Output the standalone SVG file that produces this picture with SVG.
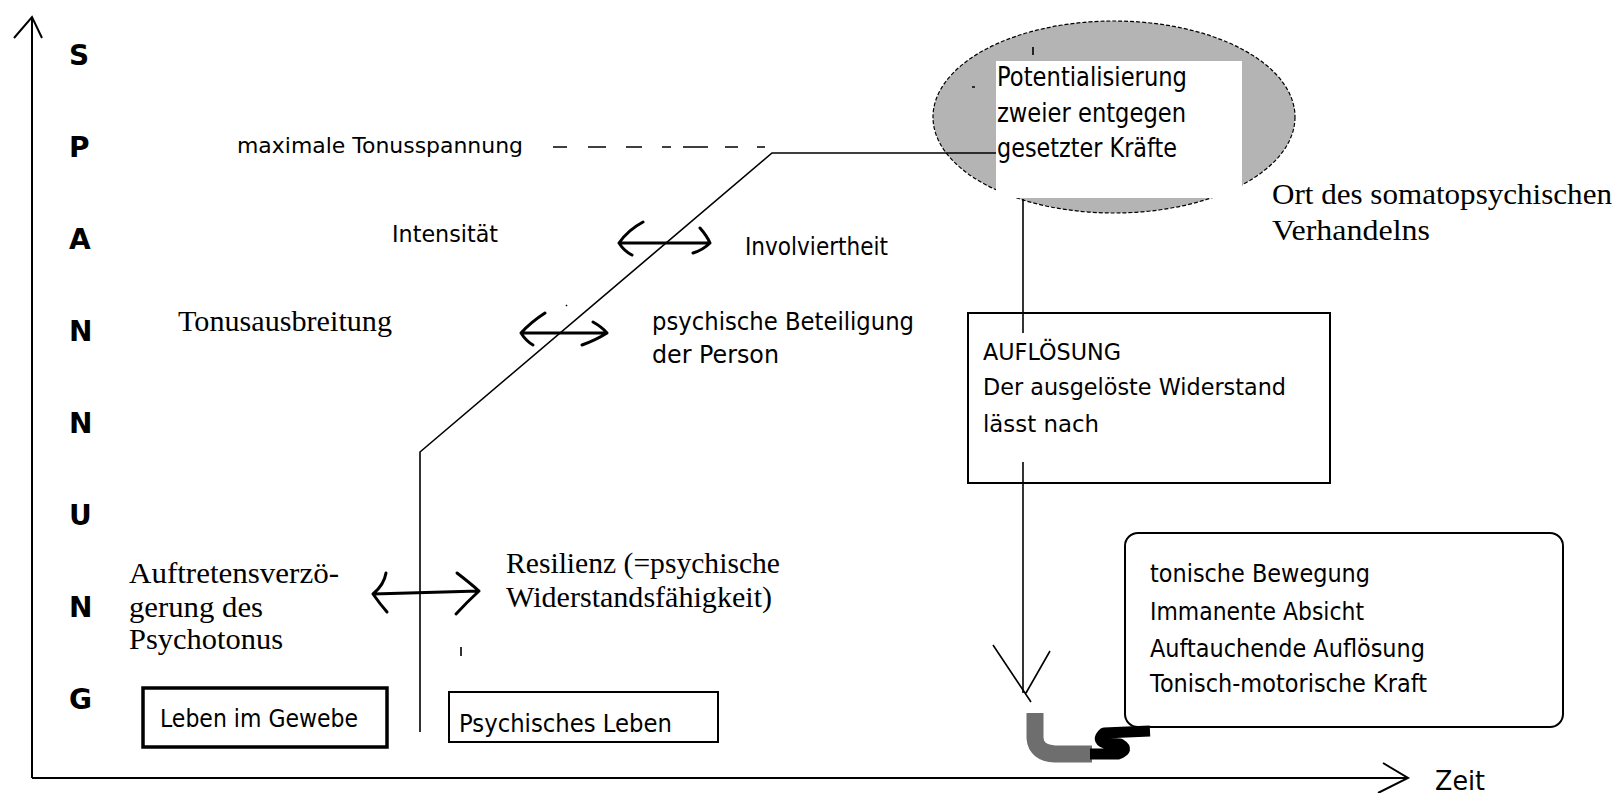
<svg xmlns="http://www.w3.org/2000/svg" width="1623" height="793" viewBox="0 0 1623 793">
<style>
  .sans { font-family: "DejaVu Sans", "Liberation Sans", sans-serif; fill: #000; }
  .serif { font-family: "Liberation Serif", "Times New Roman", serif; fill: #000; font-size: 29px; }
  .axis { stroke: #000; stroke-width: 2; fill: none; }
  .ln { stroke: #000; stroke-width: 1.6; fill: none; }
  .dbl { stroke: #000; stroke-width: 3; fill: none; stroke-linecap: round; stroke-linejoin: round; }
  .box { stroke: #000; stroke-width: 2; fill: none; }
  .letter { font-size: 28px; font-weight: bold; }
</style>
<rect width="1623" height="793" fill="#fff"/>

<g id="axes">
  <path class="axis" d="M32,778 L32,17"/>
  <path class="axis" d="M14,38 L32,17 L42,38"/>
  <path class="axis" d="M32,778 L1408,778"/>
  <path class="axis" d="M1383,763 L1408,778 L1378,793"/>
  <text class="sans" x="1435" y="790" font-size="26" textLength="50" lengthAdjust="spacingAndGlyphs">Zeit</text>
</g>

<g id="spannung-label" class="sans letter">
  <text x="69" y="65">S</text>
  <text x="69" y="157">P</text>
  <text x="69" y="249">A</text>
  <text x="69" y="341">N</text>
  <text x="69" y="433">N</text>
  <text x="69" y="525">U</text>
  <text x="69" y="617">N</text>
  <text x="69" y="709">G</text>
</g>

<g id="ellipse-node">
  <ellipse cx="1114" cy="117" rx="181" ry="96" fill="#b4b4b4" stroke="#000" stroke-width="1.2" stroke-dasharray="4 2"/>
  <rect x="996" y="61" width="246" height="137" fill="#fff"/>
  <path class="ln" d="M1033,47 L1033,55 M972,87 L975,87"/>
  <text class="sans" font-size="26" x="997" y="86" textLength="190" lengthAdjust="spacingAndGlyphs">Potentialisierung</text>
  <text class="sans" font-size="26" x="997" y="122" textLength="189" lengthAdjust="spacingAndGlyphs">zweier entgegen</text>
  <text class="sans" font-size="26" x="997" y="157" textLength="180" lengthAdjust="spacingAndGlyphs">gesetzter Kräfte</text>
</g>

<g id="ort-label">
  <text class="serif" x="1272" y="204" textLength="340" lengthAdjust="spacingAndGlyphs">Ort des somatopsychischen</text>
  <text class="serif" x="1272" y="240" textLength="158" lengthAdjust="spacingAndGlyphs">Verhandelns</text>
</g>

<g id="connectors">
  <path class="ln" d="M420,732 L420,452 L772,153 L996,153"/>
  <path class="ln" d="M553,147 L567,147 M588,147 L606,147 M626,147 L642,147 M662,147 L671,147 M683,147 L708,147 M725,147 L738,147 M757,147 L765,147"/>
  <path class="ln" d="M1023,199 L1023,333"/>
  <path class="ln" d="M1023,462 L1023,693"/>
  <path class="ln" d="M993,645 L1031,702 M1050,651 L1026,693"/>
  <path class="dbl" d="M619,243 L710,243 M643,222 Q628,230 619,243 Q624,251 632,255 M700,228 Q707,236 710,243 Q703,250 693,253"/>
  <path class="dbl" d="M521,333 L607,333 M545,313 Q531,322 521,333 Q526,341 533,345 M593,322 Q602,327 607,333 Q596,340 582,345"/>
  <path class="dbl" d="M373,594 L479,591 M386,573 Q384,585 373,594 Q380,604 387,612 M457,573 Q470,583 479,591 Q467,602 456,614"/>
  <path class="ln" d="M461,647 L461,656 M566,305 L567,306"/>
</g>

<g id="texts">
  <text class="sans" font-size="22" x="237" y="153" textLength="286" lengthAdjust="spacingAndGlyphs">maximale Tonusspannung</text>
  <text class="sans" font-size="23" x="392" y="242" textLength="106" lengthAdjust="spacingAndGlyphs">Intensität</text>
  <text class="sans" font-size="24" x="745" y="255" textLength="143" lengthAdjust="spacingAndGlyphs">Involviertheit</text>
  <text class="serif" x="178" y="331" textLength="214" lengthAdjust="spacingAndGlyphs">Tonusausbreitung</text>
  <text class="sans" font-size="24" x="652" y="330" textLength="262" lengthAdjust="spacingAndGlyphs">psychische Beteiligung</text>
  <text class="sans" font-size="24" x="652" y="363" textLength="127" lengthAdjust="spacingAndGlyphs">der Person</text>
  <text class="serif" x="129" y="583" textLength="210" lengthAdjust="spacingAndGlyphs">Auftretensverzö-</text>
  <text class="serif" x="129" y="617" textLength="134" lengthAdjust="spacingAndGlyphs">gerung des</text>
  <text class="serif" x="129" y="649" textLength="154" lengthAdjust="spacingAndGlyphs">Psychotonus</text>
  <text class="serif" x="506" y="573" textLength="274" lengthAdjust="spacingAndGlyphs">Resilienz (=psychische</text>
  <text class="serif" x="506" y="607" textLength="266" lengthAdjust="spacingAndGlyphs">Widerstandsfähigkeit)</text>
</g>

<g id="aufloesung-node">
  <rect class="box" x="968" y="313" width="362" height="170"/>
  <text class="sans" font-size="23" x="983" y="360" textLength="138" lengthAdjust="spacingAndGlyphs">AUFLÖSUNG</text>
  <text class="sans" font-size="23" x="983" y="395" textLength="303" lengthAdjust="spacingAndGlyphs">Der ausgelöste Widerstand</text>
  <text class="sans" font-size="23" x="983" y="432" textLength="116" lengthAdjust="spacingAndGlyphs">lässt nach</text>
</g>

<g id="tonische-node">
  <rect class="box" x="1125" y="533" width="438" height="194" rx="13"/>
  <text class="sans" font-size="25" x="1150" y="582" textLength="220" lengthAdjust="spacingAndGlyphs">tonische Bewegung</text>
  <text class="sans" font-size="25" x="1150" y="620" textLength="214" lengthAdjust="spacingAndGlyphs">Immanente Absicht</text>
  <text class="sans" font-size="25" x="1150" y="657" textLength="275" lengthAdjust="spacingAndGlyphs">Auftauchende Auflösung</text>
  <text class="sans" font-size="25" x="1150" y="692" textLength="277" lengthAdjust="spacingAndGlyphs">Tonisch-motorische Kraft</text>
</g>

<g id="hook-shape">
  <path d="M1035,713 L1035,738 Q1036,753 1055,754 L1092,754" stroke="#6e6e6e" stroke-width="17" fill="none"/>
  <path d="M1090,754 L1118,754 Q1130,750 1120,744 L1105,743 Q1096,740 1104,733 L1150,731" stroke="#000" stroke-width="11" fill="none" stroke-linejoin="round"/>
</g>

<g id="leben-gewebe-node">
  <rect x="143" y="688" width="244" height="59" fill="none" stroke="#000" stroke-width="3.5"/>
  <text class="sans" font-size="25" x="160" y="727" textLength="198" lengthAdjust="spacingAndGlyphs">Leben im Gewebe</text>
</g>

<g id="psychisches-leben-node">
  <rect class="box" x="449" y="692" width="269" height="50"/>
  <text class="sans" font-size="25" x="459" y="732" textLength="213" lengthAdjust="spacingAndGlyphs">Psychisches Leben</text>
</g>
</svg>
